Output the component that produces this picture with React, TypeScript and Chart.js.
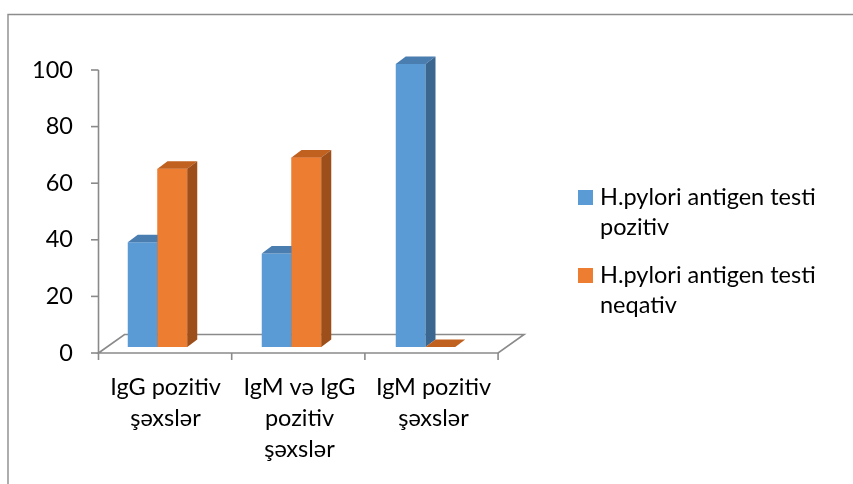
import React, { useEffect, useRef } from "react";
import { Chart, registerables } from "chart.js";

Chart.register(...registerables);

// ---- data ----
const categories: string[][] = [
  ["IgG pozitiv", "şəxslər"],
  ["IgM və IgG", "pozitiv", "şəxslər"],
  ["IgM pozitiv", "şəxslər"],
];
const seriesNames: string[][] = [
  ["H.pylori antigen testi", "pozitiv"],
  ["H.pylori antigen testi", "neqativ"],
];
const positiveValues: number[] = [37, 33, 100];
const negativeValues: number[] = [63, 67, 0];
const yTickValues: number[] = [0, 20, 40, 60, 80, 100];

// ---- styles ----
const FONT = "Lato, 'Noto Sans', sans-serif";
const FONT_SIZE = 23.5;
const seriesColors = [
  { front: "#5B9BD5", top: "#4A7DB0", side: "#3B6690" },
  { front: "#ED7D31", top: "#C0611F", side: "#9C4F1B" },
];
const AXIS_COLOR = "#8a8a8a";
const BAR_DX = 10;
const BAR_DY = 7.5;
const FRONT_DX = 8;
const FRONT_DY = 6;
const FRONT_SX = 0.994;
const FLOOR_DX = 26;
const FLOOR_DY = 18.5;

function drawFaces(ctx: any, el: any, c: { top: string; side: string }) {
  const l = el.x - el.width / 2;
  const r = el.x + el.width / 2;
  const top = Math.min(el.y, el.base);
  const bottom = Math.max(el.y, el.base);
  ctx.fillStyle = c.top;
  ctx.beginPath();
  ctx.moveTo(l, top);
  ctx.lineTo(l + BAR_DX, top - BAR_DY);
  ctx.lineTo(r + BAR_DX, top - BAR_DY);
  ctx.lineTo(r, top);
  ctx.closePath();
  ctx.fill();
  if (bottom - top > 0.5) {
    ctx.fillStyle = c.side;
    ctx.beginPath();
    ctx.moveTo(r, top);
    ctx.lineTo(r + BAR_DX, top - BAR_DY);
    ctx.lineTo(r + BAR_DX, bottom - BAR_DY);
    ctx.lineTo(r, bottom);
    ctx.closePath();
    ctx.fill();
  }
}

const threeD = {
  id: "threeD",
  beforeDraw(chart: any) {
    const ctx = chart.ctx;
    ctx.save();
    ctx.fillStyle = "#ffffff";
    ctx.fillRect(0, 0, chart.width, chart.height);
    ctx.strokeStyle = "#8c8c8c";
    ctx.lineWidth = 1.4;
    ctx.beginPath();
    ctx.moveTo(8, chart.height);
    ctx.lineTo(8, 14.5);
    ctx.lineTo(chart.width, 14.5);
    ctx.stroke();
    ctx.restore();
  },
  beforeDatasetsDraw(chart: any) {
    const ctx = chart.ctx;
    const area = chart.chartArea;
    const y = chart.scales.y;
    const fx = (px: number) => area.left + FRONT_DX + (px - area.left) * FRONT_SX;
    const base = y.getPixelForValue(0) + FRONT_DY;
    const l = fx(area.left);
    const r = fx(area.right);
    ctx.save();
    ctx.strokeStyle = AXIS_COLOR;
    ctx.lineWidth = 1.6;
    // floor
    ctx.beginPath();
    ctx.moveTo(l, base);
    ctx.lineTo(l + FLOOR_DX, base - FLOOR_DY);
    ctx.lineTo(r + FLOOR_DX, base - FLOOR_DY);
    ctx.lineTo(r, base);
    ctx.closePath();
    ctx.stroke();
    // y axis
    const yTop = y.getPixelForValue(yTickValues[yTickValues.length - 1]) + FRONT_DY;
    ctx.beginPath();
    ctx.moveTo(l, yTop);
    ctx.lineTo(l, base);
    ctx.stroke();
    for (const v of yTickValues) {
      const py = y.getPixelForValue(v) + FRONT_DY;
      ctx.beginPath();
      ctx.moveTo(l - 7.5, py);
      ctx.lineTo(l, py);
      ctx.stroke();
    }
    // x ticks at category boundaries
    const n = categories.length;
    const w = (area.right - area.left) / n;
    for (let i = 0; i <= n; i++) {
      const px = fx(area.left + i * w);
      ctx.beginPath();
      ctx.moveTo(px, base);
      ctx.lineTo(px, base + 7);
      ctx.stroke();
    }
    ctx.restore();
  },
  afterDatasetsDraw(chart: any) {
    const ctx = chart.ctx;
    ctx.save();
    const n = chart.data.datasets.length;
    for (let i = 0; i < n; i++) {
      const meta = chart.getDatasetMeta(i);
      for (const el of meta.data as any[]) {
        if (i > 0) el.draw(ctx);
        drawFaces(ctx, el, seriesColors[i]);
      }
    }
    ctx.restore();
  },
};

export default function App() {
  const ref = useRef<HTMLCanvasElement | null>(null);
  useEffect(() => {
    if (!ref.current) return;
    const chart = new Chart(ref.current, {
      type: "bar",
      data: {
        labels: categories,
        datasets: [
          {
            label: seriesNames[0].join(" "),
            data: positiveValues,
            backgroundColor: seriesColors[0].front,
            borderWidth: 0,
          },
          {
            label: seriesNames[1].join(" "),
            data: negativeValues,
            backgroundColor: seriesColors[1].front,
            borderWidth: 0,
          },
        ],
      },
      options: {
        responsive: false,
        animation: false,
        devicePixelRatio: 1,
        layout: { padding: { left: 0, top: 64, right: 360.5, bottom: 0 } },
        datasets: { bar: { categoryPercentage: 0.444, barPercentage: 1 } },
        plugins: {
          legend: { display: false },
          tooltip: { enabled: false },
        },
        scales: {
          x: {
            type: "category",
            grid: { display: false, drawTicks: false },
            border: { display: false },
            ticks: {
              autoSkip: false,
              maxRotation: 0,
              minRotation: 0,
              padding: 24.5,
              labelOffset: FRONT_DX,
              color: "#000000",
              font: { family: FONT, size: FONT_SIZE, lineHeight: 31 / FONT_SIZE },
            },
            afterFit: (s: any) => {
              s.height = 137;
            },
          },
          y: {
            min: 0,
            max: 100,
            grid: { display: false, drawTicks: false },
            border: { display: false },
            ticks: {
              stepSize: 20,
              padding: 17.5,
              labelOffset: FRONT_DY,
              color: "#000000",
              font: { family: FONT, size: FONT_SIZE },
            },
            afterFit: (s: any) => {
              s.width = 90.5;
            },
          },
        },
      },
      plugins: [threeD],
    });
    return () => chart.destroy();
  }, []);

  const legendTop = [181, 259];
  return (
    <div style={{ position: "absolute", left: 0, top: 0, width: 853, height: 484, overflow: "hidden", background: "#fff" }}>
      <canvas ref={ref} width={853} height={484} style={{ position: "absolute", left: 0, top: 0 }} />
      {seriesNames.map((lines, i) => (
        <div key={i}>
          <div
            style={{
              position: "absolute",
              left: 578,
              top: legendTop[i] + 9,
              width: 15,
              height: 15,
              background: seriesColors[i].front,
            }}
          />
          <div
            style={{
              position: "absolute",
              left: 600,
              top: legendTop[i],
              fontFamily: FONT,
              fontSize: FONT_SIZE,
              lineHeight: "30px",
              color: "#000",
              whiteSpace: "nowrap",
            }}
          >
            {lines.map((t, j) => (
              <div key={j}>{t}</div>
            ))}
          </div>
        </div>
      ))}
    </div>
  );
}
